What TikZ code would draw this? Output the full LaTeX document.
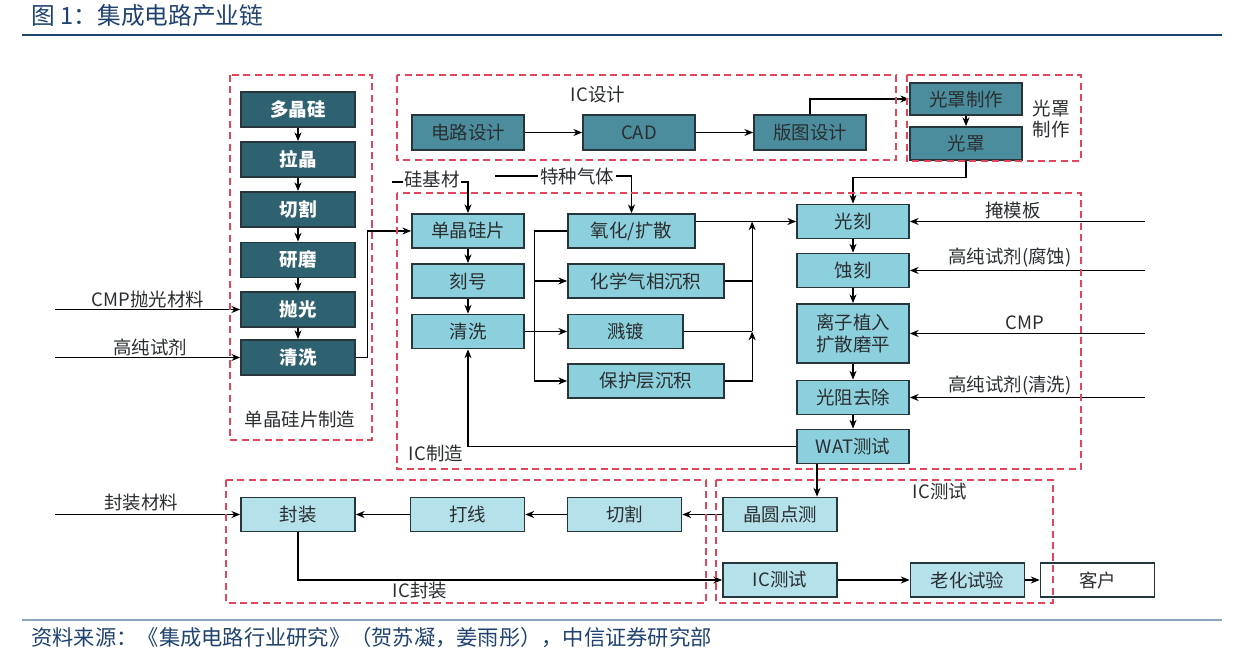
\documentclass[tikz,border=0pt]{standalone}
\usepackage{fontspec}
\setmainfont{Noto Sans CJK SC}
\usetikzlibrary{arrows.meta}
\definecolor{deepteal}{HTML}{2F6270}
\definecolor{midteal}{HTML}{4B8D9D}
\definecolor{lightteal}{HTML}{8DD0DD}
\definecolor{paleteal}{HTML}{B5E1EB}
\definecolor{boxedge}{HTML}{26363B}
\definecolor{textdark}{HTML}{2A2E30}
\definecolor{dashred}{HTML}{E5455A}
\definecolor{titleblue}{HTML}{1F4270}
\definecolor{rulegray}{HTML}{8EA6BF}

\begin{document}
\begin{tikzpicture}[x=0.02cm,y=-0.02cm,line width=0.7pt,>={Stealth[length=5pt,width=4pt]},
  font=\fontsize{10.5pt}{12.5pt}\selectfont,text=textdark,
  darkbox/.style={draw=boxedge,line width=1pt,fill=deepteal,text=white,
    font=\fontsize{10.5pt}{12.5pt}\selectfont\bfseries,minimum width=2.28cm,minimum height=0.7cm,inner sep=1pt},
  midbox/.style={draw=boxedge,line width=1pt,fill=midteal,minimum width=2.24cm,minimum height=0.7cm,inner sep=1pt},
  lightbox/.style={draw=boxedge,line width=1pt,fill=lightteal,minimum width=2.24cm,minimum height=0.68cm,inner sep=1pt},
  palebox/.style={draw=boxedge,line width=1pt,fill=paleteal,minimum width=2.28cm,minimum height=0.68cm,inner sep=1pt},
  grp/.style={draw=dashred,line width=1.1pt,dash pattern=on 4pt off 2.5pt}]
\useasboundingbox (0,0) rectangle (1242,651);
% 标题与来源
\node[anchor=west,text=titleblue,font=\fontsize{13.5pt}{15pt}\selectfont] (title) at (25,16) {图 1：集成电路产业链};
\draw[titleblue,line width=1pt] (22,35) -- (1222,35);
\draw[rulegray,line width=1pt] (22,620) -- (1222,620);
\node[anchor=west,text=titleblue,font=\fontsize{12.1pt}{13.5pt}\selectfont] (source) at (25,638)
  {资料来源：《集成电路行业研究》（贺苏凝，姜雨彤），中信证券研究部};

% 单晶硅片制造
\node[darkbox] (poly) at (298,109.5) {多晶硅};
\node[darkbox] (pull) at (298,159.5) {拉晶};
\node[darkbox] (cut1) at (298,209.5) {切割};
\node[darkbox] (grind) at (298,260) {研磨};
\node[darkbox] (polish) at (298,309.5) {抛光};
\node[darkbox] (clean1) at (298,357.5) {清洗};
\foreach \a/\b in {poly/pull,pull/cut1,cut1/grind,grind/polish,polish/clean1}
  \draw[->] (\a) -- (\b);
\coordinate (cmpin) at (55,309.5);
\coordinate (hpin) at (55,357.5);
\draw[->] (cmpin) -- (polish.west);
\draw[->] (hpin) -- (clean1.west);
\node (cmplabel) at (148,300) {CMP抛光材料};
\node (hplabel) at (150,347) {高纯试剂};

% IC设计
\node[midbox] (circ) at (468,132.5) {电路设计};
\node[midbox] (cad) at (639,132.5) {CAD};
\node[midbox] (layout) at (810,132.5) {版图设计};
\draw[->] (circ) -- (cad);
\draw[->] (cad) -- (layout);

% 光罩制作
\node[midbox,minimum height=0.64cm] (maskmk) at (966,99) {光罩制作};
\node[midbox,minimum height=0.66cm] (mask) at (966,143.5) {光罩};
\draw[->] (layout.north) |- (maskmk.west);
\draw[->] (maskmk) -- (mask);

% IC制造
\node[lightbox] (wafer) at (468,231) {单晶硅片};
\node[lightbox] (mark) at (468,281) {刻号};
\node[lightbox] (clean2) at (468,331.5) {清洗};
\node[lightbox,minimum width=2.54cm] (oxide) at (631.5,231) {氧化/扩散};
\node[lightbox,minimum width=3.12cm] (cvd) at (646,281) {化学气相沉积};
\node[lightbox,minimum width=2.3cm] (sputter) at (625.5,331.5) {溅镀};
\node[lightbox,minimum width=3.12cm] (passiv) at (646,381) {保护层沉积};
\node[lightbox] (litho) at (853,221.5) {光刻};
\node[lightbox] (etch) at (853,270.5) {蚀刻};
\node[lightbox,minimum height=1.18cm,align=center] (implant) at (853,333.5) {离子植入\\扩散磨平};
\node[lightbox] (strip) at (853,397.5) {光阻去除};
\node[lightbox] (wat) at (853,446.5) {WAT测试};
\draw[->] (clean1.east) -- ++(12,0) |- (wafer.west);
\draw[->] (mask.south) -- ++(0,17) -| (litho.north);
% 硅基材、特种气体
\coordinate (siin) at (392,182);
\coordinate (gasin) at (495,176);
\draw[->] (siin) -| (wafer.north);
\draw[->] (gasin) -| (oxide.north);
\node[fill=white,inner sep=1pt] (silabel) at (432,179) {硅基材};
\node[fill=white,inner sep=1pt] (gaslabel) at (577,176) {特种气体};
\draw[->] (wafer) -- (mark);
\draw[->] (mark) -- (clean2);
% 左侧分支
\draw (oxide.west) -- ++(-33,0) coordinate (ltop) -- (ltop |- passiv.west) coordinate (lbot);
\draw[->] (clean2.east) -- (sputter.west);
\draw[->] (ltop |- cvd.west) -- (cvd.west);
\draw[->] (lbot) -- (passiv.west);
% 右侧汇合
\draw[->] (oxide.east |- litho.west) -- (litho.west);
\coordinate (rtop) at ([xshift=-0.88cm]litho.west);
\draw (cvd.east) -- (cvd.east -| rtop);
\draw (sputter.east) -- (sputter.east -| rtop) coordinate (rmid);
\draw[->] (passiv.east) -| (rmid);
\draw[->] (rmid) -- (rtop);
\foreach \a/\b in {litho/etch,etch/implant,implant/strip,strip/wat}
  \draw[->] (\a) -- (\b);
% 右侧输入
\coordinate (maskin) at (1145,221.5);
\coordinate (etchin) at (1145,270.5);
\coordinate (cmpin2) at (1145,333.5);
\coordinate (stripin) at (1145,397.5);
\draw[->] (maskin) -- (litho.east);
\draw[->] (etchin) -- (etch.east);
\draw[->] (cmpin2) -- (implant.east);
\draw[->] (stripin) -- (strip.east);
\node (masklabel) at (1013,210) {掩模板};
\node (etchlabel) at (1010,258) {高纯试剂(腐蚀)};
\node (cmplabel2) at (1025,323) {CMP};
\node (striplabel) at (1010,386) {高纯试剂(清洗)};
\draw[->] (wat.west) -| (clean2.south);

% IC封装、IC测试
\node[palebox] (pkg) at (298,514.5) {封装};
\node[palebox] (bond) at (467.5,514.5) {打线};
\node[palebox] (dice) at (624.5,514.5) {切割};
\node[palebox] (probe) at (780,514.5) {晶圆点测};
\node[palebox] (ictest) at (780,580) {IC测试};
\node[palebox] (burnin) at (967.5,580) {老化试验};
\node[palebox,fill=white] (client) at (1097.5,580) {客户};
\draw[->] ([xshift=-0.72cm]wat.south) -- ([xshift=-0.72cm]wat.south |- probe.north);
\draw[->] (probe) -- (dice);
\draw[->] (dice) -- (bond);
\draw[->] (bond) -- (pkg);
\coordinate (pkgin) at (55,514.5);
\draw[->] (pkgin) -- (pkg.west);
\node (pkglabel) at (141,503) {封装材料};
\draw[->] (pkg.south) |- (ictest.west);
\draw[->] (ictest) -- (burnin);
\draw[->] (burnin) -- (client);

% 虚线分区
\draw[grp] (230,75) rectangle (372,440);
\draw[grp] (397,75) rectangle (896,160);
\draw[grp] (907,75) rectangle (1081,161);
\draw[grp] (397,193) rectangle (1081,469);
\draw[grp] (226,480) rectangle (706,603);
\draw[grp] (716,480) rectangle (1053,603);
\node (g1) at (300,420) {单晶硅片制造};
\node (g2) at (598,95) {IC设计};
\node[align=center] (g3) at (1051,119) {光罩\\制作};
\node (g4) at (436,453) {IC制造};
\node (g5) at (420,591) {IC封装};
\node (g6) at (940,492) {IC测试};
\end{tikzpicture}
\end{document}
